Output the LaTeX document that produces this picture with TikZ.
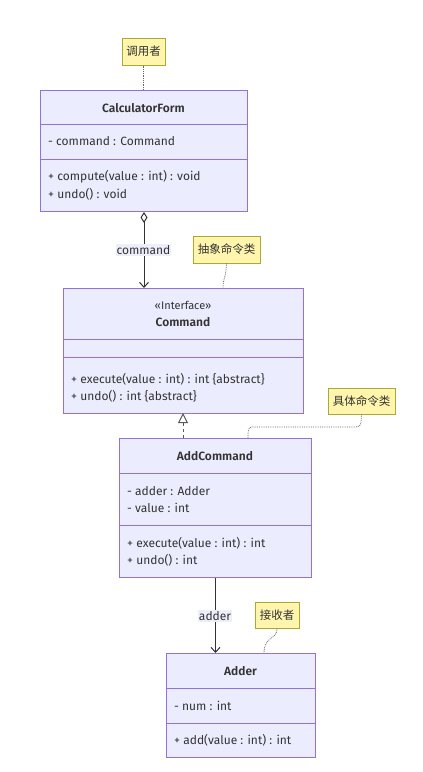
\documentclass[tikz,border=0pt]{standalone}
\usepackage{fontspec}
\setmainfont{Fira Sans}[BoldFont={Fira Sans SemiBold}]
\newfontfamily\cjk{Noto Sans CJK SC}
\usetikzlibrary{arrows.meta}
\definecolor{clsfill}{HTML}{ECECFF}
\definecolor{clsdraw}{HTML}{9370DB}
\definecolor{notefill}{HTML}{FFF5AD}
\definecolor{notedraw}{HTML}{AAAA33}
\definecolor{ink}{HTML}{333333}
\definecolor{lblfill}{HTML}{EEEEFB}
\tikzset{
  cls/.style={draw=clsdraw, fill=clsfill, line width=1pt, inner sep=0pt, anchor=north west},
  divline/.style={draw=clsdraw, line width=1pt},
  txt/.style={text=ink, anchor=west, inner sep=0pt, font=\fontsize{12}{14}\selectfont},
  ttl/.style={text=ink, inner sep=0pt, font=\fontsize{12}{14}\selectfont\bfseries},
  note/.style={draw=notedraw, fill=notefill, line width=1pt, inner sep=0pt, font=\cjk\fontsize{11.5}{13}\selectfont, text=ink},
  notelink/.style={draw=gray!80!black, densely dotted, line width=0.8pt},
  edge/.style={draw=ink, line width=1pt},
  lbl/.style={fill=lblfill, text=ink, inner sep=1pt, font=\fontsize{12}{14}\selectfont},
}
\begin{document}
\begin{tikzpicture}[x=1pt,y=-1pt]
\useasboundingbox[fill=white] (0,0) rectangle (423,772);

% CalculatorForm
\node[cls, minimum width=207pt, minimum height=121pt] (cf) at (40,90) {};
\draw[divline] (40,124) -- (247,124);
\draw[divline] (40,159) -- (247,159);
\node[ttl] (cft) at (143.5,108) {CalculatorForm};
\node[txt] (cfa) at (48,141) {- command : Command};
\node[txt] (cfm1) at (48,177) {+ compute(value : int) : void};
\node[txt] (cfm2) at (48,194) {+ undo() : void};

% Command
\node[cls, minimum width=240pt, minimum height=125pt] (cmd) at (63,288) {};
\draw[divline] (63,339) -- (303,339);
\draw[divline] (63,357) -- (303,357);
\node[text=ink, inner sep=0pt, font=\fontsize{11}{13}\selectfont] (cmds) at (183,305) {«Interface»};
\node[ttl] (cmdt) at (183,322) {Command};
\node[txt] (cmdm1) at (71,379) {+ execute(value : int) : int \{abstract\}};
\node[txt] (cmdm2) at (71,396) {+ undo() : int \{abstract\}};

% AddCommand
\node[cls, minimum width=192pt, minimum height=139pt] (ac) at (119,438) {};
\draw[divline] (119,473) -- (311,473);
\draw[divline] (119,525) -- (311,525);
\node[ttl] (act) at (215,456) {AddCommand};
\node[txt] (aca1) at (127,491) {- adder : Adder};
\node[txt] (aca2) at (127,508) {- value : int};
\node[txt] (acm1) at (127,543) {+ execute(value : int) : int};
\node[txt] (acm2) at (127,560) {+ undo() : int};

% Adder
\node[cls, minimum width=149pt, minimum height=104pt] (ad) at (166,653) {};
\draw[divline] (166,688) -- (315,688);
\draw[divline] (166,723) -- (315,723);
\node[ttl] (adt) at (240.5,671) {Adder};
\node[txt] (ada) at (174,706) {- num : int};
\node[txt] (adm) at (174,740) {+ add(value : int) : int};

% Notes
\node[note, minimum width=43pt, minimum height=27pt] (n1) at (143.5,51.5) {调用者};
\node[note, minimum width=67pt, minimum height=27pt] (n2) at (226.5,249.5) {抽象命令类};
\node[note, minimum width=67pt, minimum height=26pt] (n3) at (361.5,401) {具体命令类};
\node[note, minimum width=44pt, minimum height=26pt] (n4) at (277,615) {接收者};

\draw[notelink] (n1.south) -- (n1.south |- cf.north);
\draw[notelink] (n2.south) .. controls (226,278) and (223,278) .. (223,288);
\coordinate (c3) at (248,438);
\draw[notelink] (n3.south) -- (361,423) to[out=-90,in=0] (356,427) -- (252,427) to[out=180,in=90] (c3);
\coordinate (c4) at (264,653);
\draw[notelink] (n4.south) .. controls (277,640) and (264,636) .. (c4);

% Edges
\draw[edge, {Diamond[open,length=11pt,width=7pt]}-{Straight Barb[length=5pt,width=9pt]}] (cf.south) -- (cf.south |- cmd.north);
\node[lbl] (l1) at (143.5,250) {command};
\draw[draw=gray!70!black, line width=1pt, dashed, {Triangle[open,length=10pt,width=10pt]}-] (183,413) -- (183,438);
\draw[edge, -{Straight Barb[length=5pt,width=9pt]}] (ac.south) -- (ad.north -| ac.south);
\node[lbl] (l2) at (215,616) {adder};
\end{tikzpicture}
\end{document}
